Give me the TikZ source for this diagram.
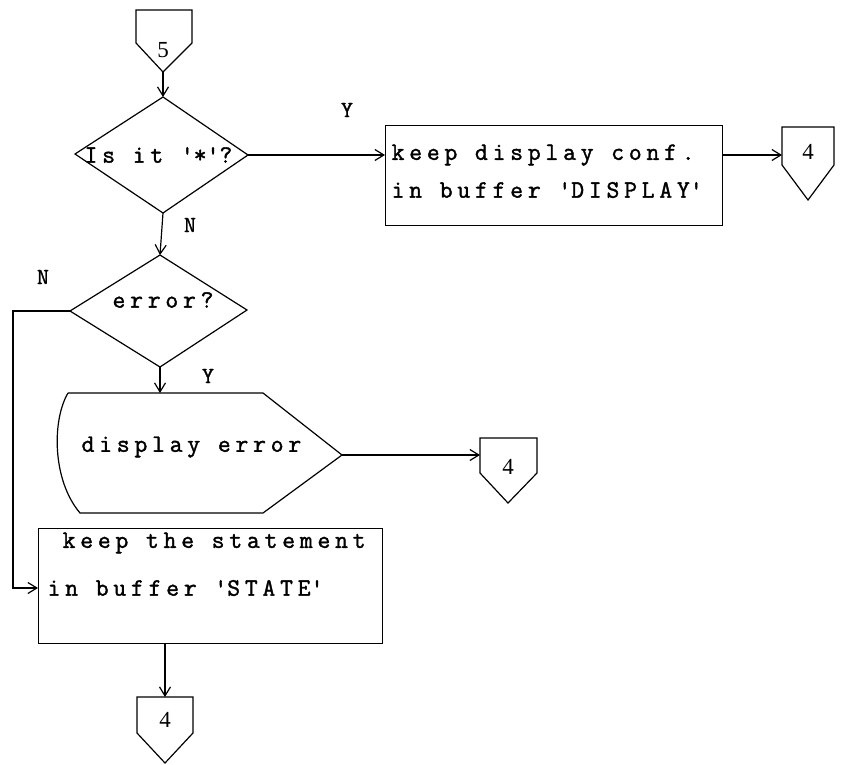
\documentclass[tikz,border=0pt]{standalone}
\usepackage{fontspec}
\newfontfamily\tw[LetterSpace=19,FakeBold=1.5]{Latin Modern Mono}
\newfontfamily\lab{Liberation Serif}
\usetikzlibrary{arrows.meta}
\begin{document}
\begin{tikzpicture}[x=1pt,y=-1pt,line width=1.2pt,
  txt/.style={font=\tw\fontsize{25}{28}\selectfont,inner sep=0pt,anchor=west},
  lbl/.style={font=\lab\fontsize{23}{26}\selectfont,inner sep=0pt},
  yn/.style={font=\tw\fontsize{23}{26}\selectfont,inner sep=0pt},
  arr/.style={-{Straight Barb[length=9pt,width=11pt]}},
  boxst/.style={draw,inner sep=0pt,anchor=north west}]
\useasboundingbox (0,0) rectangle (851,765);
% connector 5 (top)
\coordinate (c5tl) at (136,10);
\coordinate (c5tr) at (192,10);
\coordinate (c5r) at (192,43);
\coordinate (c5l) at (136,43);
\coordinate (c5p) at (163,72);
\draw (c5tl) -- (c5l) -- (c5p) -- (c5r) -- (c5tr) -- cycle;
\node[lbl] (n5) at (163,50) {5};
% decision 1
\coordinate (d1t) at (163,97);
\coordinate (d1r) at (248,155);
\coordinate (d1b) at (163,213);
\coordinate (d1l) at (75,154);
\draw (d1t) -- (d1r) -- (d1b) -- (d1l) -- cycle;
\node[txt] (q1) at (84,155) {Is it \textquotesingle*\textquotesingle?};
\draw[arr] (c5p) -- (d1t);
% box 1
\node[boxst,minimum width=337pt,minimum height=100pt] (b1) at (385,125) {};
\node[txt] (b1a) at (391,155) {keep display conf.};
\node[txt] (b1b) at (391,190) {in buffer \textquotesingle DISPLAY\textquotesingle};
\draw[arr] (d1r) -- (d1r -| b1.west);
\node[yn] (y1) at (347,110) {Y};
% connector 4 (right)
\coordinate (k1tl) at (782,127);
\coordinate (k1tr) at (834,127);
\coordinate (k1r) at (834,165);
\coordinate (k1p) at (808,200);
\coordinate (k1l) at (782,165);
\draw (k1tl) -- (k1l) -- (k1p) -- (k1r) -- (k1tr) -- cycle;
\node[lbl] (n4a) at (808,152) {4};
\draw[arr] (d1r -| b1.east) -- (d1r -| k1tl);
% decision 2
\coordinate (d2t) at (160,255);
\coordinate (d2r) at (247,310);
\coordinate (d2b) at (160,367);
\coordinate (d2l) at (70,311);
\draw (d2t) -- (d2r) -- (d2b) -- (d2l) -- cycle;
\node[txt,anchor=center] (q2) at (163,300) {error?};
\draw[arr] (d1b) -- (d2t);
\node[yn] (n1) at (190,225) {N};
% display shape
\coordinate (ds1) at (68,393);
\coordinate (ds2) at (263,393);
\coordinate (dsp) at (342,455);
\coordinate (ds3) at (263,513);
\coordinate (ds4) at (80,513);
\draw (ds1) -- (ds2) -- (dsp) -- (ds3) -- (ds4) .. controls (52,480) and (52,420) .. (ds1);
\node[txt] (dt) at (81,447) {display error};
\draw[arr] (d2b) -- (d2b |- ds1);
\node[yn] (y2) at (208,376) {Y};
% connector 4 (middle)
\coordinate (k2tl) at (480,438);
\coordinate (k2tr) at (537,438);
\coordinate (k2r) at (537,473);
\coordinate (k2p) at (508,503);
\coordinate (k2l) at (480,473);
\draw (k2tl) -- (k2l) -- (k2p) -- (k2r) -- (k2tr) -- cycle;
\node[lbl] (n4b) at (508,467) {4};
\draw[arr] (dsp) -- (dsp -| k2tl);
% box 2
\node[boxst,minimum width=344pt,minimum height=115pt] (b2) at (38,528) {};
\node[txt] (b2a) at (62,543) {keep the statement};
\node[txt] (b2b) at (47,588) {in buffer \textquotesingle STATE\textquotesingle};
\coordinate (nb) at (13,311);
\coordinate (t2) at (38,588);
\draw[arr] (d2l) -- (nb) -- (nb |- t2) -- (t2);
\node[yn] (n2) at (43,277) {N};
% connector 4 (bottom)
\coordinate (k3c) at (165,697);
\coordinate (k3tl) at (137,697);
\coordinate (k3tr) at (193,697);
\coordinate (k3r) at (193,733);
\coordinate (k3p) at (165,763);
\coordinate (k3l) at (137,733);
\draw (k3tl) -- (k3l) -- (k3p) -- (k3r) -- (k3tr) -- cycle;
\node[lbl] (n4c) at (165,720) {4};
\draw[arr] (b2.south -| k3c) -- (k3c);
\end{tikzpicture}
\end{document}
